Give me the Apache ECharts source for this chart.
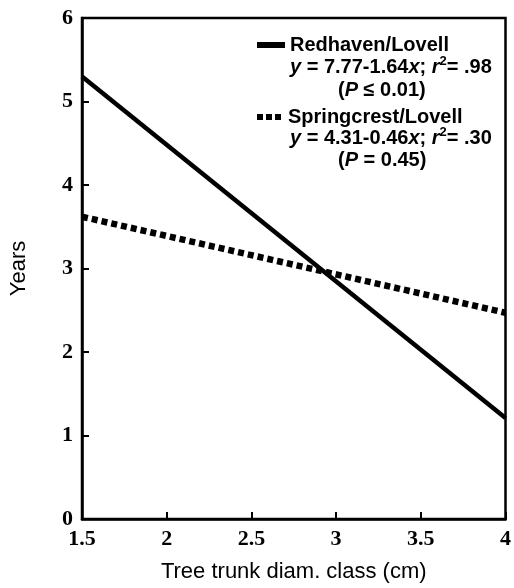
<!DOCTYPE html>
<html>
<head>
<meta charset="utf-8">
<script src="https://cdn.jsdelivr.net/npm/echarts@6/dist/echarts.min.js"></script>
<style>
  html, body { margin: 0; padding: 0; background: #fff; }
  #chart { width: 514px; height: 588px; }
</style>
</head>
<body>
<div id="chart"></div>
<script>
// end points of the two fitted lines (x = trunk diam. class, y = years)
const diamClass = [1.5, 4]
const redhaven = [5.3, 1.21]
const springcrest = [3.62, 2.47]

const seriesNames = ['Redhaven/Lovell', 'Springcrest/Lovell']
const fitText = [
  ['y = 7.77-1.64x; r2= .98', '(P ≤ 0.01)'],
  ['y = 4.31-0.46x; r2= .30', '(P = 0.45)']
]

const sans = 'Liberation Sans, Arial, sans-serif'
const serif = 'Liberation Serif, Times New Roman, serif'

// legend samples: a solid bar and a row of small squares
const solidIcon = 'rect'
const dottedIcon = 'path://M0,0h6v6h-6zM9,0h6v6h-6zM18,0h6v6h-6z'

function pairs(xs, ys) {
  return xs.map((x, i) => [x, ys[i]])
}

// equation line with italic y / x / r and superscript 2
function eqRich(eq) {
  const m = eq.match(/^y = (.*)x; r2= (.*)$/)
  return '{i|y}{b| = ' + m[1] + '}{i|x}{b|; }{i|r}{sup|2}{b|= ' + m[2] + '}'
}
function pRich(p) {
  const m = p.match(/^\(P (.*)\)$/)
  return '{b|(}{i|P}{b| ' + m[1] + ')}'
}
const rich = {
  b: { fontFamily: sans, fontWeight: 'bold', fontSize: 20, color: '#000' },
  i: { fontFamily: sans, fontWeight: 'bold', fontStyle: 'italic', fontSize: 20, color: '#000' },
  sup: { fontFamily: sans, fontWeight: 'bold', fontSize: 13, color: '#000', verticalAlign: 'top', padding: [0, 0, 12, 0] }
}

const chart = echarts.init(document.getElementById('chart'))

const axisCommon = {
  axisLine: { show: true, lineStyle: { color: '#000', width: 2.5 } },
  axisTick: { show: true, inside: true, length: 7, lineStyle: { color: '#000', width: 2 } },
  splitLine: { show: false },
  axisLabel: { color: '#000', fontFamily: serif, fontWeight: 'bold', fontSize: 22 },
  nameTextStyle: { color: '#000', fontFamily: sans, fontSize: 22 }
}

const legendCommon = {
  orient: 'vertical',
  left: 252,
  itemWidth: 28,
  itemHeight: 6,
  itemGap: 8,
  itemStyle: { color: '#000', borderWidth: 0 },
  textStyle: { fontFamily: sans, fontWeight: 'bold', fontSize: 20, color: '#000' }
}

chart.setOption({
  animation: false,
  grid: {
    left: 82, right: 4, top: 18, bottom: 68,
    show: true, borderColor: '#000', borderWidth: 2.5
  },
  legend: [
    Object.assign({}, legendCommon, { top: 30, data: [{ name: seriesNames[0], icon: solidIcon }] }),
    Object.assign({}, legendCommon, { top: 102, data: [{ name: seriesNames[1], icon: dottedIcon }] })
  ],
  xAxis: Object.assign({}, axisCommon, {
    type: 'value',
    min: 1.5,
    max: 4,
    interval: 0.5,
    name: 'Tree trunk diam. class (cm)',
    nameLocation: 'middle',
    nameGap: 42,
    axisLabel: Object.assign({}, axisCommon.axisLabel, { margin: 9 })
  }),
  yAxis: Object.assign({}, axisCommon, {
    type: 'value',
    min: 0,
    max: 6,
    interval: 1,
    name: 'Years',
    nameLocation: 'middle',
    nameGap: 52,
    axisLabel: Object.assign({}, axisCommon.axisLabel, { margin: 9 })
  }),
  graphic: [
    { type: 'text', left: 290, top: 55, style: { text: eqRich(fitText[0][0]), rich: rich } },
    { type: 'text', left: 338, top: 80, style: { text: pRich(fitText[0][1]), rich: rich } },
    { type: 'text', left: 290, top: 126, style: { text: eqRich(fitText[1][0]), rich: rich } },
    { type: 'text', left: 338, top: 150, style: { text: pRich(fitText[1][1]), rich: rich } }
  ],
  series: [
    {
      name: seriesNames[0],
      type: 'line',
      data: pairs(diamClass, redhaven),
      symbol: 'none',
      lineStyle: { color: '#000', width: 4.5, type: 'solid' },
      itemStyle: { color: '#000' }
    },
    {
      name: seriesNames[1],
      type: 'line',
      data: pairs(diamClass, springcrest),
      symbol: 'none',
      lineStyle: { color: '#000', width: 6.5, type: [6, 4] },
      itemStyle: { color: '#000' }
    }
  ]
})

window.addEventListener('resize', chart.resize)
</script>
</body>
</html>
